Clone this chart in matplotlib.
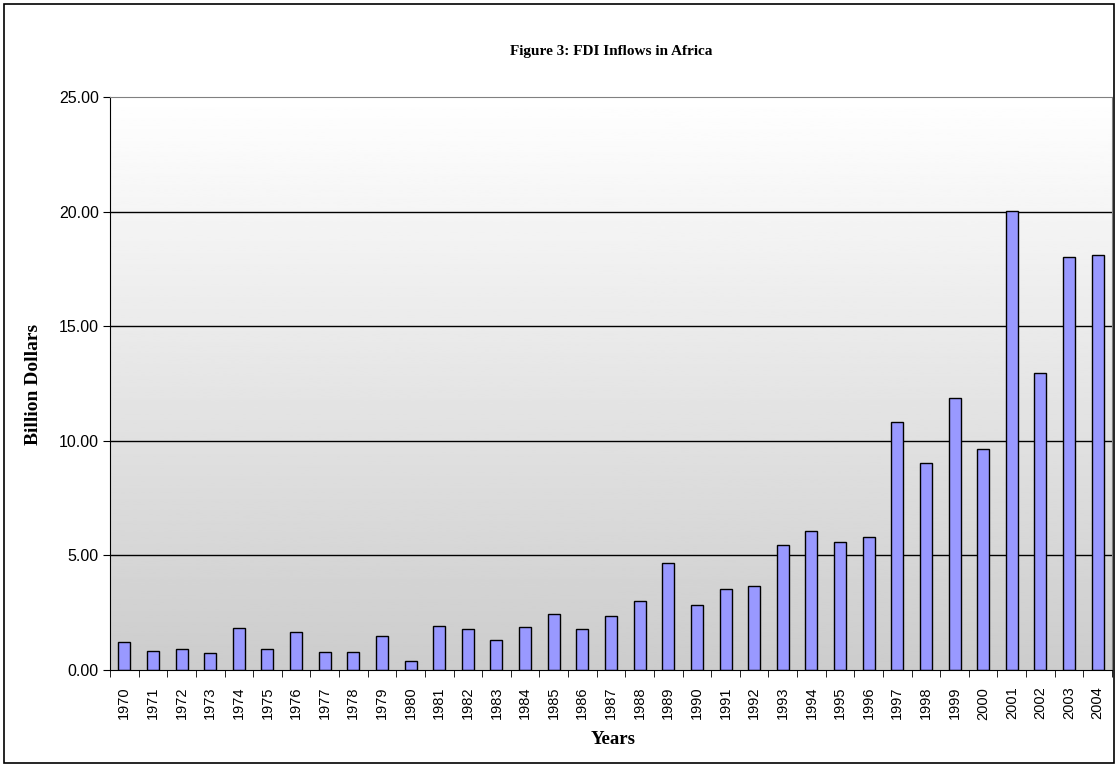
import matplotlib
matplotlib.use("Agg")
import matplotlib.pyplot as plt
import numpy as np

# Data
years = [str(y) for y in range(1970, 2005)]
fdi = [1.24, 0.83, 0.92, 0.75, 1.83, 0.92, 1.67, 0.77, 0.77, 1.49,
       0.39, 1.94, 1.80, 1.30, 1.87, 2.46, 1.77, 2.37, 3.00, 4.68,
       2.84, 3.54, 3.68, 5.46, 6.08, 5.58, 5.79, 10.83, 9.02, 11.88,
       9.63, 20.03, 12.97, 18.00, 18.10]
yticks = [0, 5, 10, 15, 20, 25]

W, H = 1119, 765
fig = plt.figure(figsize=(W / 100, H / 100), dpi=100)
ax = fig.add_axes([110 / W, 1 - 670 / H, 1002 / W, 573 / H])

# Outer frame around the whole chart
fig.patches.append(plt.Rectangle((4 / W, 2 / H), 1110 / W, 759 / H,
                                 transform=fig.transFigure, fill=False,
                                 edgecolor='black', linewidth=1.2))

n = len(years)
x = np.arange(n)

# Gradient background: white at top, grey at bottom
grad = np.linspace(1.0, 0.80, 256).reshape(-1, 1)
ax.imshow(grad, cmap='gray', vmin=0, vmax=1, aspect='auto',
          extent=[-0.5, n - 0.5, 0, 25], origin='upper', zorder=0)

for v in yticks[1:-1]:
    ax.axhline(v, color='black', linewidth=1, zorder=1)

ax.bar(x, fdi, width=0.42, color='#9999ff', edgecolor='black',
       linewidth=1, zorder=2)

ax.set_xlim(-0.5, n - 0.5)
ax.set_ylim(0, 25)
ax.set_yticks(yticks)
ax.set_yticklabels(['%.2f' % v for v in yticks], fontsize=11.5,
                   family='Liberation Sans')
ax.set_xticks(x)
ax.set_xticklabels(years, rotation=90, fontsize=10.5, family='Liberation Sans')
ax.set_xticks(np.arange(n + 1) - 0.5, minor=True)
ax.tick_params(axis='x', which='major', length=0, pad=12)
ax.tick_params(axis='x', which='minor', length=5, direction='out')
ax.tick_params(axis='y', length=5, direction='out', pad=3)

ax.spines['left'].set_color('black')
ax.spines['bottom'].set_color('black')
ax.spines['top'].set_color('#808080')
ax.spines['right'].set_color('#808080')

# Labels
fig.text(34 / W, 1 - 384 / H, 'Billion Dollars', rotation=90,
         ha='center', va='center', fontsize=14, fontweight='bold',
         family='Liberation Serif')
fig.text(613 / W, 1 - 740 / H, 'Years', ha='center', va='center',
         fontsize=13.5, fontweight='bold', family='Liberation Serif')
fig.text(611 / W, 1 - 52 / H, 'Figure 3: FDI Inflows in Africa',
         ha='center', va='center', fontsize=11, fontweight='bold',
         family='Liberation Serif')

plt.savefig('out.png', dpi=100)
plt.close()
